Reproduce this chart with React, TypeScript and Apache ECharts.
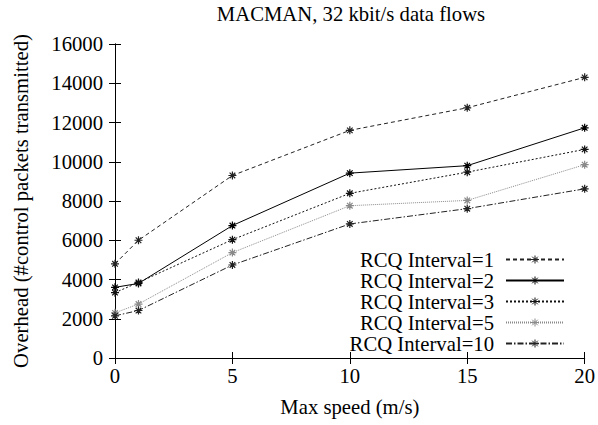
import React, { useEffect, useRef } from "react";
import * as echarts from "echarts";

const speeds = [0, 1, 5, 10, 15, 20];
const seriesNames = [
  "RCQ Interval=1",
  "RCQ Interval=2",
  "RCQ Interval=3",
  "RCQ Interval=5",
  "RCQ Interval=10",
];
const rcq1 = [4800, 6000, 9300, 11600, 12750, 14300];
const rcq2 = [3600, 3800, 6750, 9420, 9800, 11730];
const rcq3 = [3330, 3850, 6030, 8390, 9470, 10630];
const rcq5 = [2300, 2750, 5370, 7760, 8030, 9850];
const rcq10 = [2150, 2420, 4740, 6830, 7610, 8620];
const xTicks = [0, 5, 10, 15, 20];
const yTicks = [0, 2000, 4000, 6000, 8000, 10000, 12000, 14000, 16000];

const FONT = "Liberation Serif";
const STAR = "path://M5,0L5,10M0,5L10,5M1.5,1.5L8.5,8.5M1.5,8.5L8.5,1.5";

export default function App() {
  const ref = useRef<HTMLDivElement>(null);
  useEffect(() => {
    document.body.style.margin = "0";
    const chart = echarts.init(ref.current!, null, { renderer: "svg" });
    const allData = [rcq1, rcq2, rcq3, rcq5, rcq10];
    const colors = ["#222", "#000", "#111", "#8a8a8a", "#222"];
    const dashes: any[] = [[4, 3], "solid", [2, 2], [1, 1], [6, 2, 1.5, 2]];
    const xMin = xTicks[0];
    const xMax = xTicks[xTicks.length - 1];
    const yMin = yTicks[0];
    const yMax = yTicks[yTicks.length - 1];
    const xInt = xTicks[1] - xTicks[0];
    const yInt = yTicks[1] - yTicks[0];
    const axisCommon = {
      axisLine: { show: true, lineStyle: { color: "#000", width: 1 } },
      axisTick: { show: true, inside: true, length: 6, lineStyle: { color: "#000" } },
      splitLine: { show: false },
    };
    const labelStyle = { fontFamily: FONT, fontSize: 20.7, color: "#000" };
    chart.setOption({
      animation: false,
      backgroundColor: "#fff",
      textStyle: { fontFamily: FONT },
      title: {
        text: "MACMAN, 32 kbit/s data flows",
        left: 351,
        textAlign: "center",
        top: 3,
        padding: 0,
        textStyle: { ...labelStyle, fontWeight: "normal" },
      },
      grid: { left: 115, right: 11, top: 44, bottom: 67 },
      legend: {
        orient: "vertical",
        right: 33,
        top: 249,
        align: "right",
        padding: 0,
        itemGap: 0,
        itemWidth: 58,
        itemHeight: 10,
        data: seriesNames,
        itemStyle: { borderWidth: 1 },
        textStyle: { ...labelStyle, lineHeight: 20.5, padding: [0, 7, 0, 0] },
      },
      xAxis: [
        {
          type: "value",
          min: xMin,
          max: xMax,
          interval: xInt,
          name: "Max speed (m/s)",
          nameLocation: "middle",
          nameGap: 38,
          nameTextStyle: labelStyle,
          axisLabel: { ...labelStyle, margin: 7, formatter: (v: number) => String(v) },
          ...axisCommon,
        },
        {
          type: "value",
          position: "top",
          min: xMin,
          max: xMax,
          interval: xInt,
          axisLabel: { show: false },
          ...axisCommon,
        },
      ],
      yAxis: [
        {
          type: "value",
          min: yMin,
          max: yMax,
          interval: yInt,
          name: "Overhead (#control packets transmitted)",
          nameLocation: "middle",
          nameGap: 84,
          nameTextStyle: labelStyle,
          axisLabel: { ...labelStyle, margin: 12, formatter: (v: number) => String(v) },
          ...axisCommon,
        },
        {
          type: "value",
          position: "right",
          min: yMin,
          max: yMax,
          interval: yInt,
          axisLabel: { show: false },
          ...axisCommon,
        },
      ],
      series: allData.map((d, i) => ({
        name: seriesNames[i],
        type: "line",
        data: d.map((v, j) => [speeds[j], v]),
        symbol: STAR,
        symbolSize: 8,
        symbolKeepAspect: true,
        showAllSymbol: true,
        lineStyle: { color: colors[i], width: 1, type: dashes[i] },
        itemStyle: { color: colors[i], borderColor: colors[i], borderWidth: 1.2 },
        emphasis: { disabled: true },
      })),
    });
    return () => chart.dispose();
  }, []);
  return (
    <div
      ref={ref}
      style={{ position: "fixed", left: 0, top: 0, width: 598, height: 425 }}
    />
  );
}
